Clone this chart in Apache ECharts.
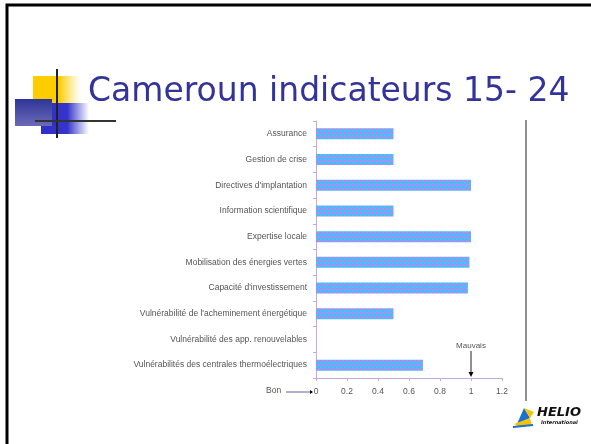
<!DOCTYPE html>
<html><head><meta charset="utf-8">
<script src="https://cdn.jsdelivr.net/npm/echarts@6/dist/echarts.min.js"></script>
<style>html,body{margin:0;padding:0;background:#fff}#c{width:591px;height:444px}</style>
</head><body><div id="c"></div>
<script>
const titleText = 'Cameroun indicateurs 15- 24';
const categories = ['Assurance','Gestion de crise',"Directives d'implantation",'Information scientifique','Expertise locale','Mobilisation des énergies vertes',"Capacité d'investissement","Vulnérabilité de l'acheminement énergétique",'Vulnérabilité des app. renouvelables','Vulnérabilités des centrales thermoélectriques'];
const values = [0.5,0.5,1.0,0.5,1.0,0.99,0.98,0.5,0,0.69];
const xTicks = [0,0.2,0.4,0.6,0.8,1,1.2];
const badLabel = 'Mauvais', goodLabel = 'Bon';
const badValue = 1;

// checker pattern for the bars (2px cells)
const pc = document.createElement('canvas'); pc.width = 4; pc.height = 4;
const g = pc.getContext('2d');
g.fillStyle = '#3cc8f4'; g.fillRect(0,0,4,4);
g.fillStyle = '#e070f0'; g.fillRect(0,0,2,2);
g.fillStyle = '#6aa8f8'; g.fillRect(2,2,2,2);

const chart = echarts.init(document.getElementById('c'), null, {renderer:'canvas'});
const axisColor = '#c8a8d8';
const option = {
  animation:false,
  grid:{left:316,right:89,top:121,bottom:66,containLabel:false},
  xAxis:{type:'value',min:0,max:1.2,interval:0.2,
    axisLine:{show:true,lineStyle:{color:axisColor}},
    axisTick:{show:true,length:3,lineStyle:{color:axisColor}},
    splitLine:{show:false},
    axisLabel:{margin:9,fontSize:8.5,color:'#555',fontFamily:'Liberation Sans',
      formatter:v=>{const t=xTicks.find(x=>Math.abs(x-v)<1e-6);return t===undefined?'':String(t);}}},
  yAxis:{type:'category',data:categories,inverse:true,
    axisLine:{show:true,lineStyle:{color:axisColor}},
    axisTick:{show:true,length:3,lineStyle:{color:axisColor}},
    axisLabel:{margin:9,fontSize:8.5,color:'#555',fontFamily:'Liberation Sans'}},
  series:[{type:'bar',data:values,barWidth:11,
    itemStyle:{color:{image:pc,repeat:'repeat'}}}],
  graphic:[]
};
chart.setOption(option);

const pBad = chart.convertToPixel({gridIndex:0},[badValue,categories[categories.length-1]]);
const p0 = chart.convertToPixel({gridIndex:0},[0,categories[categories.length-1]]);
const graphics = [
  // slide frame
  {type:'rect',shape:{x:7,y:5,width:600,height:460},style:{fill:null,stroke:'#000',lineWidth:3}},
  // decoration
  {type:'rect',shape:{x:33,y:76,width:48,height:28},style:{fill:{type:'linear',x:0,y:0,x2:1,y2:0,colorStops:[{offset:0,color:'#ffcc00'},{offset:0.55,color:'#ffcc00'},{offset:1,color:'rgba(255,220,80,0)'}]}}},
  {type:'rect',shape:{x:41,y:103,width:48,height:31},style:{fill:{type:'linear',x:0,y:0,x2:1,y2:0,colorStops:[{offset:0,color:'#2f2fc8'},{offset:0.55,color:'#3535cc'},{offset:1,color:'rgba(60,60,210,0)'}]}}},
  {type:'rect',shape:{x:15,y:99,width:37,height:27},style:{fill:{type:'linear',x:0,y:0,x2:0,y2:1,colorStops:[{offset:0,color:'#2e3596'},{offset:1,color:'#6a6ab8'}]}}},
  {type:'line',shape:{x1:57,y1:69,x2:57,y2:138},style:{stroke:'#222',lineWidth:2}},
  {type:'line',shape:{x1:35,y1:121,x2:116,y2:121},style:{stroke:'#333',lineWidth:2}},
  // title
  {type:'text',left:88,top:76,style:{text:titleText,fill:'#333399',font:'33px "DejaVu Sans"'}},
  // right vertical line
  {type:'line',shape:{x1:526,y1:120,x2:526,y2:401},style:{stroke:'#222',lineWidth:1}},
  // Mauvais marker
  {type:'text',x:pBad[0],y:346,style:{text:badLabel,fill:'#555',font:'8px "Liberation Sans"',align:'center',verticalAlign:'middle'}},
  {type:'line',shape:{x1:pBad[0],y1:351,x2:pBad[0],y2:372},style:{stroke:'#222',lineWidth:1}},
  {type:'polygon',shape:{points:[[pBad[0]-2.5,372],[pBad[0]+2.5,372],[pBad[0],377]]},style:{fill:'#000'}},
  // Bon marker
  {type:'text',x:p0[0]-50,y:391,style:{text:goodLabel,fill:'#555',font:'8.5px "Liberation Sans"',align:'left',verticalAlign:'middle'}},
  {type:'line',shape:{x1:p0[0]-30,y1:392,x2:p0[0]-6,y2:392},style:{stroke:'#6a5aa8',lineWidth:1}},
  {type:'polygon',shape:{points:[[p0[0]-6,390],[p0[0]-6,394],[p0[0]-3,392]]},style:{fill:'#000'}},
  // HELIO logo
  {type:'polygon',shape:{points:[[517,424],[524,408],[530,418]]},style:{fill:'#1a6fd0'}},
  {type:'polygon',shape:{points:[[524,408],[534,412],[530,418]]},style:{fill:'#f5c400'}},
  {type:'polygon',shape:{points:[[514,424],[530,418],[532,426],[518,426]]},style:{fill:'#f5c400'}},
  {type:'line',shape:{x1:513,y1:427,x2:533,y2:425},style:{stroke:'#1a6fd0',lineWidth:2}},
  {type:'text',x:537,y:406,style:{text:'HELIO',fill:'#111',font:'italic bold 13px "DejaVu Sans"'}},
  {type:'text',x:541,y:420,style:{text:'International',fill:'#111',font:'italic bold 5px "DejaVu Sans"'}}
];
chart.setOption({graphic:graphics});
</script></body></html>
